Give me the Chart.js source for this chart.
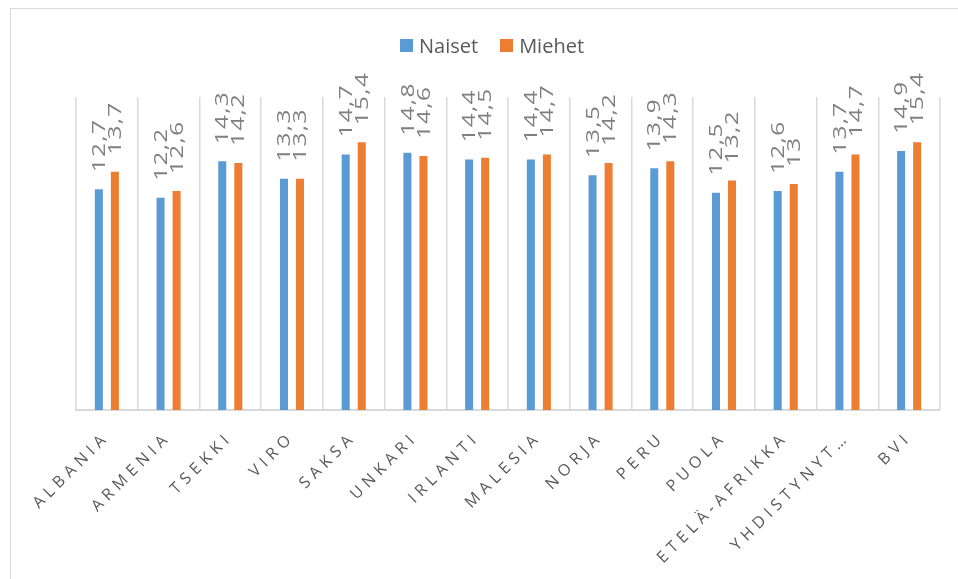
<!DOCTYPE html>
<html>
<head>
<meta charset="utf-8">
<script src="https://cdn.jsdelivr.net/npm/chart.js@4.4.1/dist/chart.umd.min.js"></script>
<style>
    body { margin: 0; background: #fff; width: 958px; height: 579px; overflow: hidden; position: relative; font-family: "Open Sans", sans-serif; }
    #frame { position: absolute; left: 10px; top: 8px; width: 960px; height: 590px; border: 1px solid #d9d9d9; }
    #wrap { position: absolute; left: 0; top: 0; width: 947px; height: 571px; }
    #legend { position: absolute; top: 23px; left: 389px; font-size: 20px; color: #595959; white-space: nowrap; }
    #legend span.box { display: inline-block; width: 13px; height: 13px; margin-right: 6px; vertical-align: 1px; }
    #legend span.item { margin-right: 22px; }
</style>
</head>
<body>
<div id="frame">
    <div id="wrap"><canvas id="chart"></canvas></div>
    <div id="legend"></div>
</div>
<script>
// data
const categories = ["Albania", "Armenia", "Tsekki", "Viro", "Saksa", "Unkari", "Irlanti", "Malesia", "Norja", "Peru", "Puola", "Etelä-Afrikka", "Yhdistynyt kuningaskunta", "BVI"];
const naiset = [12.7, 12.2, 14.3, 13.3, 14.7, 14.8, 14.4, 14.4, 13.5, 13.9, 12.5, 12.6, 13.7, 14.9];
const miehet = [13.7, 12.6, 14.2, 13.3, 15.4, 14.6, 14.5, 14.7, 14.2, 14.3, 13.2, 13, 14.7, 15.4];
const seriesNames = ["Naiset", "Miehet"];
const colors = ["#5b9bd5", "#ed7d31"];

document.addEventListener("DOMContentLoaded", function () {

    // legend as plain html
    const legend = document.getElementById("legend");
    seriesNames.forEach(function (name, i) {
        legend.innerHTML += '<span class="item"><span class="box" style="background:' + colors[i] + '"></span>' + name + '</span>';
    });

    // excel style spaced letters on the axis labels
    const spacing = {
        id: "spacing",
        beforeUpdate: function (chart) { chart.ctx.letterSpacing = "5px"; },
        beforeDraw: function (chart) { chart.ctx.letterSpacing = "5px"; }
    };

    // value labels turned on their side above each bar
    const valueLabels = {
        id: "valueLabels",
        afterDatasetsDraw: function (chart) {
            const ctx = chart.ctx;
            ctx.save();
            ctx.letterSpacing = "1px";
            ctx.font = "18px 'Open Sans', sans-serif";
            ctx.fillStyle = "#7f7f7f";
            ctx.textAlign = "left";
            ctx.textBaseline = "middle";
            chart.data.datasets.forEach(function (ds, i) {
                chart.getDatasetMeta(i).data.forEach(function (bar, j) {
                    ctx.save();
                    ctx.translate(bar.x + 1, bar.y - 17);
                    ctx.rotate(-Math.PI / 2);
                    ctx.scale(1.35, 1);
                    ctx.fillText(String(ds.data[j]).replace(".", ","), 0, 0);
                    ctx.restore();
                });
            });
            ctx.restore();
        }
    };

    const canvas = document.getElementById("chart");
    new Chart(canvas.getContext("2d"), {
        type: "bar",
        data: {
            labels: categories,
            datasets: [{
                label: seriesNames[0],
                data: naiset,
                backgroundColor: colors[0],
                barPercentage: 0.5,
                categoryPercentage: 0.52
            }, {
                label: seriesNames[1],
                data: miehet,
                backgroundColor: colors[1],
                barPercentage: 0.5,
                categoryPercentage: 0.52
            }]
        },
        options: {
            responsive: true,
            maintainAspectRatio: false,
            animation: false,
            layout: { padding: { left: 65, right: 18, top: 88, bottom: 0 } },
            plugins: {
                legend: { display: false },
                tooltip: { enabled: false }
            },
            scales: {
                y: { display: false, min: 0, max: 18 },
                x: {
                    grid: { color: "#d9d9d9", lineWidth: 1.5, drawTicks: false },
                    border: { color: "#d9d9d9", width: 2 },
                    ticks: {
                        color: "#595959",
                        font: { family: "'Open Sans', sans-serif", size: 16 },
                        maxRotation: 45,
                        minRotation: 45,
                        autoSkip: false,
                        padding: 18,
                        callback: function (value) {
                            let t = this.getLabelForValue(value).toUpperCase();
                            if (t.length > 14) t = t.split(" ")[0] + "…";
                            return t;
                        }
                    },
                    afterFit: function (axis) {
                        axis.height = 170;
                        axis.paddingLeft = 0;
                        axis.paddingRight = 0;
                    }
                }
            }
        },
        plugins: [spacing, valueLabels]
    });
});
</script>
</body>
</html>
